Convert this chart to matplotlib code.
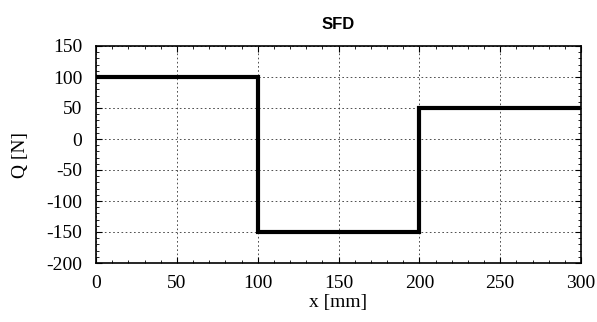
import matplotlib
matplotlib.use('Agg')
import matplotlib.pyplot as plt
from matplotlib.ticker import MultipleLocator

# shear force diagram, piecewise constant
x_pts = [0, 100, 100, 200, 200, 300]
q_pts = [100, 100, -150, -150, 50, 50]
x_ticks = [0, 50, 100, 150, 200, 250, 300]
y_ticks = [-200, -150, -100, -50, 0, 50, 100, 150]

plt.rcParams['font.family'] = 'Liberation Serif'
plt.rcParams['axes.unicode_minus'] = False

fig = plt.figure(figsize=(5.97, 3.22), dpi=100)
ax = fig.add_axes([96 / 597, 1 - 263 / 322, 485 / 597, 217 / 322])

ax.plot(x_pts, q_pts, color='black', linewidth=3, solid_joinstyle='miter')

ax.set_xlim(0, 300)
ax.set_ylim(-200, 150)
ax.set_xticks(x_ticks)
ax.set_yticks(y_ticks)
ax.xaxis.set_minor_locator(MultipleLocator(10))
ax.yaxis.set_minor_locator(MultipleLocator(10))
ax.tick_params(which='both', direction='in', top=True, right=True)
ax.tick_params(which='major', length=4, labelsize=14)
ax.tick_params(axis='x', which='major', pad=9)
ax.tick_params(axis='y', which='major', pad=10)
ax.tick_params(which='minor', length=2)
ax.grid(True, which='major', color='#333333', linestyle=(0, (2, 3)), linewidth=0.6)
for s in ax.spines.values():
    s.set_linewidth(1.2)

ax.set_xlabel('x [mm]', fontsize=14, labelpad=1)
ax.set_ylabel('Q [N]', fontsize=14, labelpad=12)
ax.set_title('SFD', fontsize=12, fontweight='bold', family='Liberation Sans', pad=12)

fig.savefig('out.png', dpi=100)
